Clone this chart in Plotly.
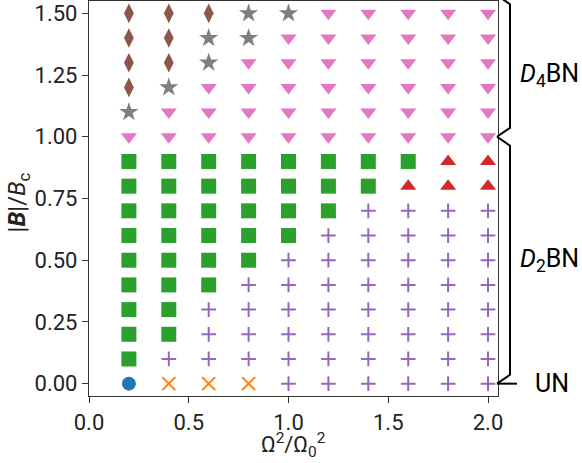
import plotly.graph_objects as go

# ---------------- data ----------------
omega_ratio = [0.2, 0.4, 0.6, 0.8, 1.0, 1.2, 1.4, 1.6, 1.8, 2.0]
b_ratio = [0.0, 0.1, 0.2, 0.3, 0.4, 0.5, 0.6, 0.7, 0.8, 0.9, 1.0,
           1.1, 1.2, 1.3, 1.4, 1.5]
# phase code for each (b_ratio row, omega_ratio column), bottom row first
phase_rows = [
    "OXXXPPPPPP",  # 0.0
    "SPPPPPPPPP",  # 0.1
    "SSPPPPPPPP",  # 0.2
    "SSPPPPPPPP",  # 0.3
    "SSSPPPPPPP",  # 0.4
    "SSSSPPPPPP",  # 0.5
    "SSSSSPPPPP",  # 0.6
    "SSSSSSPPPP",  # 0.7
    "SSSSSSSUUU",  # 0.8
    "SSSSSSSSUU",  # 0.9
    "VVVVVVVVVV",  # 1.0
    "*VVVVVVVVV",  # 1.1
    "D*VVVVVVVV",  # 1.2
    "DD*VVVVVVV",  # 1.3
    "DD**VVVVVV",  # 1.4
    "DDD**VVVVV",  # 1.5
]
x_ticks = [0.0, 0.5, 1.0, 1.5, 2.0]
y_ticks = [0.0, 0.25, 0.5, 0.75, 1.0, 1.25, 1.5]
region_labels = ["<i>D</i><sub>4</sub>BN", "<i>D</i><sub>2</sub>BN", "UN"]
region_label_y = [1.25, 0.5, 0.0]

X_RANGE = [0.0, 2.05]
Y_RANGE = [-0.05, 1.55]

# ---------------- styles ----------------
styles = {
    "O": dict(symbol="circle", color="#1f77b4", size=14, open=False),
    "X": dict(symbol="x-thin", color="#ff7f0e", size=13, open=True),
    "S": dict(symbol="square", color="#2ca02c", size=15, open=False),
    "U": dict(symbol="triangle-up", color="#d62728", size=14, open=False),
    "P": dict(symbol="cross-thin", color="#9467bd", size=10.5, open=True),
    "D": dict(symbol="diamond-tall", color="#8c564b", size=14, open=False),
    "V": dict(symbol="triangle-down", color="#e377c2", size=14, open=False),
    "*": dict(symbol="star", color="#7f7f7f", size=14.5, open=False),
}

fig = go.Figure()
for code, st in styles.items():
    xs, ys = [], []
    for yi, row in enumerate(phase_rows):
        for xi, c in enumerate(row):
            if c == code:
                xs.append(omega_ratio[xi])
                ys.append(b_ratio[yi])
    marker = dict(symbol=st["symbol"], size=st["size"], color=st["color"])
    if st["open"]:
        marker["line"] = dict(color=st["color"], width=2)
    else:
        marker["line"] = dict(width=0)
    fig.add_trace(go.Scatter(x=xs, y=ys, mode="markers", marker=marker,
                             showlegend=False, cliponaxis=False))

FONT = "Roboto, 'Liberation Sans', sans-serif"

# ---------------- layout ----------------
W, H = 582, 463
ML, MR, MT, MB = 89, 84, 1, 67
plot_w = W - ML - MR
plot_h = H - MT - MB


def yp(v):
    return (v - Y_RANGE[0]) / (Y_RANGE[1] - Y_RANGE[0])


def xpx(px):
    return (px - ML) / plot_w


def ypx(px):
    return (H - MB - px) / plot_h


tip_x = xpx(497)
bar_x = xpx(510)
un_x = xpx(517)
hook = 0.036

brace_paths = [
    # D4BN bracket
    f"M {tip_x},{yp(1.573)} L {bar_x},{yp(1.573 - hook)} "
    f"L {bar_x},{yp(1.0 + hook)} L {tip_x},{yp(1.0)}",
    # D2BN bracket
    f"M {tip_x},{yp(1.0)} L {bar_x},{yp(1.0 - hook)} "
    f"L {bar_x},{yp(0.0 + hook)} L {tip_x},{yp(0.0)}",
    # UN pointer
    f"M {tip_x},{yp(0.0)} L {un_x},{yp(0.0)}",
]
shapes = [dict(type="path", path=p, xref="paper", yref="paper",
               line=dict(color="black", width=2)) for p in brace_paths]

annotations = []
label_x = [xpx(518), xpx(518), xpx(533)]
for txt, yv, lx in zip(region_labels, region_label_y, label_x):
    annotations.append(dict(text=txt, x=lx, y=yp(yv), xref="paper", yref="paper",
                            xanchor="left", yanchor="middle", showarrow=False,
                            font=dict(size=25, color="black", family=FONT)))

annotations.append(dict(text="|<b><i>B</i></b>|/<i>B</i><sub>c</sub>",
                        x=xpx(18), y=0.49, xref="paper", yref="paper",
                        textangle=-90, xanchor="center", yanchor="middle",
                        showarrow=False,
                        font=dict(size=24, color="#222", family=FONT)))
annotations.append(dict(text="Ω<sup>2</sup>/Ω<sub>0</sub><sup>2</sup>",
                        x=0.5, y=ypx(462), xref="paper", yref="paper",
                        xanchor="center", yanchor="bottom", showarrow=False,
                        borderpad=0,
                        font=dict(size=22, color="#222", family=FONT)))

axis_common = dict(showgrid=False, zeroline=False, showline=True, mirror=True,
                   linecolor="#333", linewidth=1.2, ticks="outside",
                   ticklen=6, tickwidth=1.2, tickcolor="#333",
                   tickfont=dict(size=22, color="#222", family=FONT))

fig.update_layout(
    width=W, height=H,
    margin=dict(l=ML, r=MR, t=MT, b=MB),
    paper_bgcolor="white", plot_bgcolor="white",
    xaxis=dict(range=X_RANGE, tickvals=x_ticks, tickformat=".1f", **axis_common),
    yaxis=dict(range=Y_RANGE, tickvals=y_ticks, tickformat=".2f", **axis_common),
    shapes=shapes,
    annotations=annotations,
    font=dict(family=FONT),
)

fig.write_html("out.html",
               config={"displayModeBar": False},
               post_script="document.body.style.margin='0px';"
                           "document.body.style.padding='0px';")
